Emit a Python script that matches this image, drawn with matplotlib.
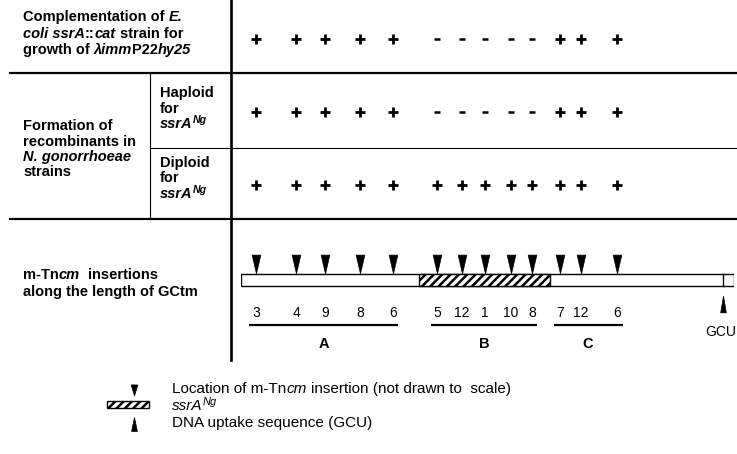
import matplotlib
matplotlib.use("Agg")
import matplotlib.pyplot as plt
from matplotlib.patches import Rectangle
from matplotlib.path import Path

plt.rcParams["font.family"] = ["Liberation Sans", "DejaVu Sans"]
plt.rcParams["hatch.linewidth"] = 1.8

# insertion sites along GCtm (% of GCtm length) and no. of isolates at each
insert_pos = [3.0, 11.2, 17.0, 24.1, 30.8, 39.8, 44.8, 49.5, 54.8, 59.0, 64.7, 69.0, 76.3]
isolates = [3, 4, 9, 8, 6, 5, 12, 1, 10, 8, 7, 12, 6]
groups = ["A", "A", "A", "A", "A", "B", "B", "B", "B", "B", "C", "C", "C"]

complementation = [1, 1, 1, 1, 1, 0, 0, 0, 0, 0, 1, 1, 1]
haploid = [1, 1, 1, 1, 1, 0, 0, 0, 0, 0, 1, 1, 1]
diploid = [1, 1, 1, 1, 1, 1, 1, 1, 1, 1, 1, 1, 1]

ssra_region = (36.1, 62.7)
gcu_pos = 97.8

fig = plt.figure(figsize=(7.37, 4.54), dpi=100)
ax = fig.add_axes([0, 0, 1, 1])
ax.set_xlim(0, 737)
ax.set_ylim(454, 0)
ax.axis("off")

# gene axis: 0-100 % of GCtm across the bar, y in pixels
gax = fig.add_axes([241 / 737, 0, 493 / 737, 1])
gax.set_xlim(0, 100)
gax.set_ylim(454, 0)
gax.axis("off")
gax.patch.set_alpha(0)

renderer = fig.canvas.get_renderer()


def space_width(size, style, weight):
    a = ax.text(0, 0, "x x", fontsize=size, fontstyle=style, fontweight=weight)
    b = ax.text(0, 0, "xx", fontsize=size, fontstyle=style, fontweight=weight)
    w = a.get_window_extent(renderer).width - b.get_window_extent(renderer).width
    a.remove()
    b.remove()
    return w


def rich(x, y, parts, size=10.5, weight="bold"):
    # parts: (text, italic?, superscript?)
    for s, it, sup in parts:
        style = "italic" if it else "normal"
        fs = size * 0.72 if sup else size
        sw = space_width(fs, style, weight)
        x += sw * (len(s) - len(s.lstrip(" ")))
        core = s.strip(" ")
        yy = y - size * 0.36 * 100 / 72 if sup else y
        t = ax.text(x, yy, core, fontsize=fs, fontstyle=style, fontweight=weight,
                    va="baseline", ha="left")
        x += t.get_window_extent(renderer).width
        x += sw * (len(s) - len(s.rstrip(" ")))


def tri(width, down=True):
    # width = base width / height
    tip = -1 if down else 1
    return Path([(-width, -tip), (width, -tip), (0, tip), (-width, -tip)],
                [Path.MOVETO, Path.LINETO, Path.LINETO, Path.CLOSEPOLY])


# table rules
ax.plot([10, 737], [73, 73], color="black", lw=1.6)
ax.plot([10, 737], [219, 219], color="black", lw=1.6)
ax.plot([150, 737], [147.5, 147.5], color="black", lw=0.8)
ax.plot([150, 150], [73, 219], color="black", lw=0.8)
ax.plot([231, 231], [0, 360], color="black", lw=1.9)

# row headings
rich(23, 21, [("Complementation of", False, False), (" E.", True, False)])
rich(23, 37.5, [("coli ssrA", True, False), ("::", False, False), ("cat", True, False),
                (" strain for", False, False)])
rich(23, 54, [("growth of ", False, False), ("\u03bbimm", True, False), ("P22", False, False),
              ("hy25", True, False)])

rich(23, 130, [("Formation of", False, False)])
rich(23, 145.5, [("recombinants in", False, False)])
rich(23, 161, [("N. gonorrhoeae", True, False)])
rich(23, 176, [("strains", False, False)])

rich(160, 97, [("Haploid", False, False)])
rich(160, 113, [("for", False, False)])
rich(160, 128, [("ssrA", True, False), ("Ng", True, True)])

rich(160, 167, [("Diploid", False, False)])
rich(160, 182.5, [("for", False, False)])
rich(160, 198, [("ssrA", True, False), ("Ng", True, True)])

rich(23, 279, [("m-Tn", False, False), ("cm", True, False), ("  insertions", False, False)])
rich(23, 296, [("along the length of GCtm", False, False)])

# +/- results
for row, yrow in [(complementation, 39), (haploid, 112), (diploid, 185)]:
    xp = [p for p, v in zip(insert_pos, row) if v]
    xm = [p for p, v in zip(insert_pos, row) if not v]
    gax.plot(xp, [yrow] * len(xp), ls="none", marker="+", ms=7, mew=2.0, color="black")
    gax.plot(xm, [yrow] * len(xm), ls="none", marker="_", ms=5, mew=1.8, color="black")

# GCtm bar
gax.add_patch(Rectangle((0, 274), 100, 12, facecolor="white", edgecolor="black", lw=1.0))
gax.add_patch(Rectangle((ssra_region[0], 274), ssra_region[1] - ssra_region[0], 12,
                        facecolor="white", edgecolor="black", hatch="////", lw=1.0))
gax.plot([gcu_pos, gcu_pos], [274, 286], color="black", lw=1.0)

# insertion arrows
gax.plot(insert_pos, [263.5] * len(insert_pos), ls="none", marker=tri(0.46),
         ms=13.5, mew=0.5, color="black")

# GCU arrow and label
gax.plot([gcu_pos], [303.5], ls="none", marker=tri(0.34, down=False), ms=12,
         mew=0.5, color="black")
ax.text(736, 336, "GCU", fontsize=10, ha="right", va="baseline")

# isolate counts
for p, n in zip(insert_pos, isolates):
    gax.text(p, 317, str(n), fontsize=10, ha="center", va="baseline")

# groups
for g in ["A", "B", "C"]:
    ps = [p for p, gg in zip(insert_pos, groups) if gg == g]
    x0, x1 = min(ps) - 1.3, max(ps) + 1.1
    gax.plot([x0, x1], [324.5, 324.5], color="black", lw=1.6, solid_capstyle="butt")
    gax.text((x0 + x1) / 2, 348, g, fontsize=10.5, fontweight="bold", ha="center",
             va="baseline")

# key
ax.plot([134], [389.5], ls="none", marker=tri(0.6), ms=8, mew=0.5, color="black")
ax.add_patch(Rectangle((107, 401), 42, 7, facecolor="white", edgecolor="black",
                       hatch="////", lw=1.0))
ax.plot([134], [424], ls="none", marker=tri(0.42, down=False), ms=10, mew=0.5,
        color="black")

rich(172, 393, [("Location of m-Tn", False, False), ("cm", True, False),
                (" insertion (not drawn to  scale)", False, False)], size=11, weight="normal")
rich(172, 410.5, [("ssrA", True, False), ("Ng", True, True)], size=11, weight="normal")
rich(172, 427.5, [("DNA uptake sequence (GCU)", False, False)], size=11, weight="normal")

fig.savefig("out.png", dpi=100)
